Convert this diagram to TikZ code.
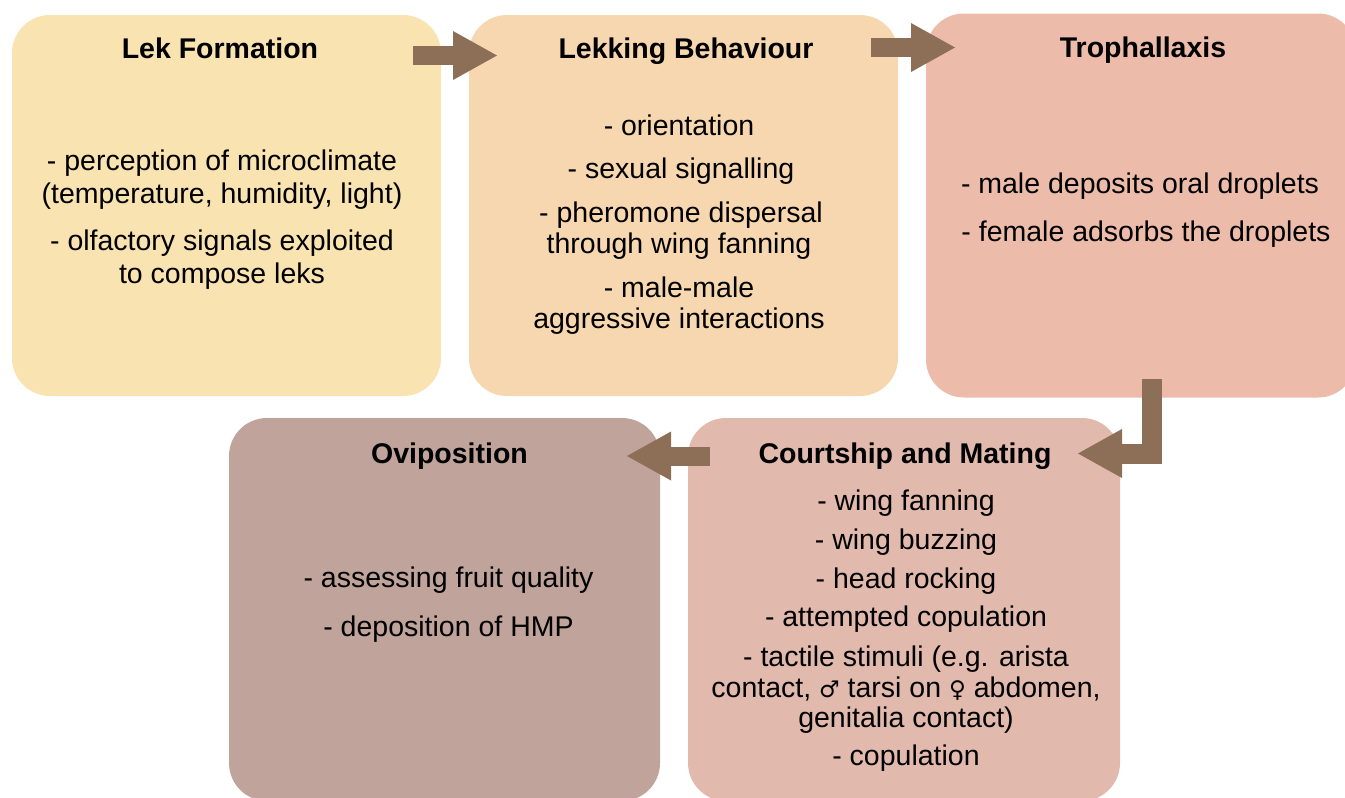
\documentclass[tikz,border=0pt]{standalone}
\usepackage{fontspec}
\setmainfont{Liberation Sans}
\newfontfamily\gendersym{DejaVu Sans}
\usetikzlibrary{arrows.meta}
\definecolor{cLek}{HTML}{F9E4B1}
\definecolor{cLekking}{HTML}{F7D7AF}
\definecolor{cTroph}{HTML}{EDBBA9}
\definecolor{cOvi}{HTML}{C0A39A}
\definecolor{cCourt}{HTML}{E2BAAD}
\definecolor{cArrow}{HTML}{8D6E57}
\newcommand{\malesym}{{\gendersym\fontsize{23}{31}\selectfont ♂}}
\newcommand{\femalesym}{{\gendersym\fontsize{23}{31}\selectfont ♀}}
\tikzset{
  stage/.style={fill=#1, draw=none, rounded corners=38pt, inner sep=0pt},
  heading/.style={anchor=base, inner sep=0pt, font=\fontsize{28.5}{31}\selectfont\bfseries},
  ln/.style={anchor=base, inner sep=0pt, font=\fontsize{28.5}{31}\selectfont},
  flow/.style={draw=cArrow, line width=#1, line cap=butt, line join=miter,
    -{Triangle[length=44pt, width=49pt, line width=0pt]}},
}
\begin{document}
\begin{tikzpicture}[x=1pt, y=-1pt]
\useasboundingbox (0,0) rectangle (1345,798);
\clip (0,0) rectangle (1345,798);

% stage boxes
\node[stage=cLek, minimum width=429pt, minimum height=381pt] (lek) at (226.5,205.5) {};
\node[stage=cLekking, minimum width=429pt, minimum height=381pt] (lekking) at (683.5,205.5) {};
\node[stage=cTroph, minimum width=430pt, minimum height=384pt] (troph) at (1141,205.5) {};
\node[stage=cOvi, minimum width=431pt, minimum height=383pt] (ovi) at (444.5,609.5) {};
\node[stage=cCourt, minimum width=432pt, minimum height=383pt] (court) at (904,609.5) {};

% arrow end points
\coordinate (a1s) at (413,55.5);
\coordinate (a1e) at (497,55.5);
\coordinate (a2s) at (871,47.5);
\coordinate (a2e) at (955,47.5);
\coordinate (a3s) at (1152,379);
\coordinate (a3e) at (1078,453.5);
\coordinate (a4s) at (710,456);
\coordinate (a4e) at (627,456);

\draw[flow=19pt] (a1s) -- (a1e);
\draw[flow=19pt] (a2s) -- (a2e);
\draw[flow=20pt] (a3s) |- (a3e);
\draw[flow=19pt] (a4s) -- (a4e);

% Lek Formation
\node[heading] (t1) at (220,58) {Lek Formation};
\node[ln] (l1a) at (222,170) {- perception of microclimate};
\node[ln] (l1b) at (222,203) {(temperature, humidity, light)};
\node[ln] (l1c) at (222,250) {- olfactory signals exploited};
\node[ln] (l1d) at (222,283) {to compose leks};

% Lekking Behaviour
\node[heading] (t2) at (686,58) {Lekking Behaviour};
\node[ln] (l2a) at (679,135) {- orientation};
\node[ln] (l2b) at (681,178) {- sexual signalling};
\node[ln] (l2c) at (681,222) {- pheromone dispersal};
\node[ln] (l2d) at (679,253) {through wing fanning};
\node[ln] (l2e) at (679,297) {- male-male};
\node[ln] (l2f) at (679,328) {aggressive interactions};

% Trophallaxis
\node[heading] (t3) at (1143,57) {Trophallaxis};
\node[ln] (l3a) at (1140,193) {- male deposits oral droplets};
\node[ln] (l3b) at (1146,241) {- female adsorbs the droplets};

% Oviposition
\node[heading] (t4) at (449.5,463) {Oviposition};
\node[ln] (l4a) at (448.5,587) {- assessing fruit quality};
\node[ln] (l4b) at (448.5,636) {- deposition of HMP};

% Courtship and Mating
\node[heading] (t5) at (905,463) {Courtship and Mating};
\node[ln] (l5a) at (906,510) {- wing fanning};
\node[ln] (l5b) at (906,549) {- wing buzzing};
\node[ln] (l5c) at (906,588) {- head rocking};
\node[ln] (l5d) at (906,626) {- attempted copulation};
\node[ln] (l5e) at (906,666) {- tactile stimuli (e.g. arista};
\node[ln] (l5f) at (906,697) {contact, \malesym{} tarsi on \femalesym{} abdomen,};
\node[ln] (l5g) at (906,727) {genitalia contact)};
\node[ln] (l5h) at (906,765) {- copulation};
\end{tikzpicture}
\end{document}
